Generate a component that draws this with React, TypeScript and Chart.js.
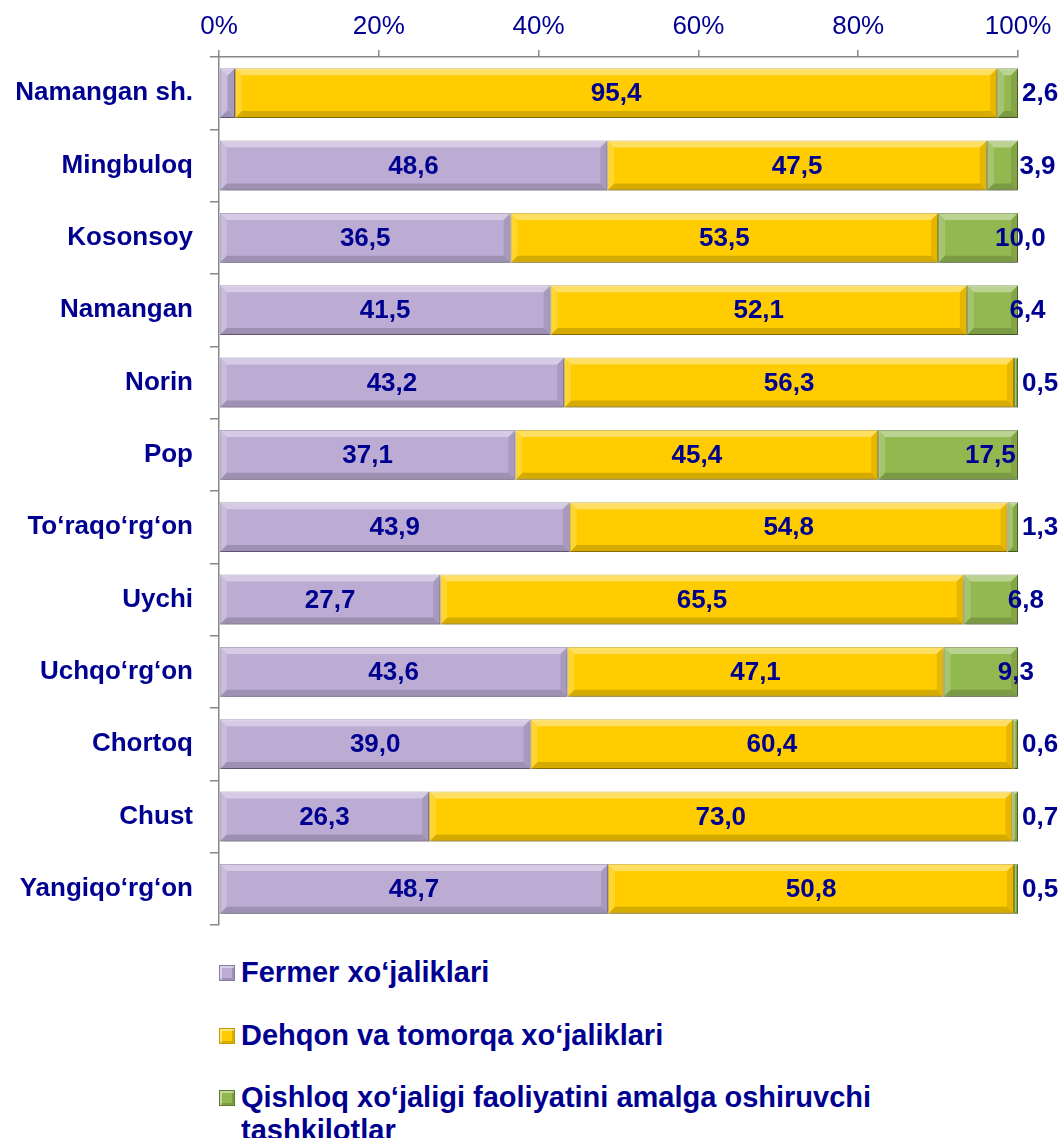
import React, { useEffect, useRef } from "react";
import { Chart, registerables } from "chart.js";

Chart.register(...registerables);

const categories = [
  "Namangan sh.",
  "Mingbuloq",
  "Kosonsoy",
  "Namangan",
  "Norin",
  "Pop",
  "To‘raqo‘rg‘on",
  "Uychi",
  "Uchqo‘rg‘on",
  "Chortoq",
  "Chust",
  "Yangiqo‘rg‘on",
];

const fermer = [2.0, 48.6, 36.5, 41.5, 43.2, 37.1, 43.9, 27.7, 43.6, 39.0, 26.3, 48.7];
const dehqon = [95.4, 47.5, 53.5, 52.1, 56.3, 45.4, 54.8, 65.5, 47.1, 60.4, 73.0, 50.8];
const tashkilot = [2.6, 3.9, 10.0, 6.4, 0.5, 17.5, 1.3, 6.8, 9.3, 0.6, 0.7, 0.5];

const seriesNames = [
  "Fermer xo‘jaliklari",
  "Dehqon va tomorqa xo‘jaliklari",
  "Qishloq xo‘jaligi faoliyatini amalga oshiruvchi tashkilotlar",
];

const xTicks = [0, 20, 40, 60, 80, 100];

const fills = ["#BCACD4", "#FFCC00", "#92B850"];
const edges = ["#8A7AA6", "#C79E00", "#5E7D2C"];
const TEXT = "#000090";
const FONT = "'Liberation Sans', Arial, Helvetica, sans-serif";

const fmt = (v: number) => v.toFixed(1).replace(".", ",");

const barDecor = {
  id: "barDecor",
  beforeDatasetDraw(chart: any) {
    const ctx = chart.ctx;
    ctx.save();
    ctx.shadowColor = "rgba(0,0,0,0.25)";
    ctx.shadowBlur = 5;
    ctx.shadowOffsetX = 1;
    ctx.shadowOffsetY = 3;
  },
  afterDatasetDraw(chart: any) {
    chart.ctx.restore();
  },
  afterDatasetsDraw(chart: any) {
    const ctx = chart.ctx;
    const area = chart.chartArea;
    chart.data.datasets.forEach((ds: any, di: number) => {
      const meta = chart.getDatasetMeta(di);
      meta.data.forEach((el: any) => {
        const p = el.getProps(["x", "y", "base", "height"], true);
        const x0 = Math.min(p.base, p.x);
        const x1 = Math.max(p.base, p.x);
        const y0 = p.y - p.height / 2;
        const y1 = p.y + p.height / 2;
        const b = Math.min(7, (x1 - x0) / 2);
        const poly = (pts: number[][], color: string) => {
          ctx.beginPath();
          ctx.moveTo(pts[0][0], pts[0][1]);
          for (let i = 1; i < pts.length; i++) ctx.lineTo(pts[i][0], pts[i][1]);
          ctx.closePath();
          ctx.fillStyle = color;
          ctx.fill();
        };
        ctx.save();
        poly([[x0, y0], [x1, y0], [x1 - b, y0 + b], [x0 + b, y0 + b]], "rgba(255,255,255,0.38)");
        poly([[x0, y1], [x1, y1], [x1 - b, y1 - b], [x0 + b, y1 - b]], "rgba(0,0,0,0.16)");
        poly([[x0, y0], [x0 + b, y0 + b], [x0 + b, y1 - b], [x0, y1]], "rgba(255,255,255,0.18)");
        poly([[x1, y0], [x1 - b, y0 + b], [x1 - b, y1 - b], [x1, y1]], "rgba(0,0,0,0.10)");
        ctx.restore();
      });
    });
    ctx.save();
    ctx.font = `bold 26px ${FONT}`;
    ctx.fillStyle = TEXT;
    ctx.textBaseline = "middle";
    chart.data.datasets.forEach((ds: any, di: number) => {
      const meta = chart.getDatasetMeta(di);
      meta.data.forEach((el: any, i: number) => {
        const v = ds.data[i];
        const p = el.getProps(["x", "y", "base"], true);
        const c = (p.base + p.x) / 2;
        if (di < 2) {
          if (v < 3) return;
          ctx.textAlign = "center";
          ctx.fillText(fmt(v), c, p.y + 1);
        } else {
          ctx.textAlign = "left";
          ctx.fillText(fmt(v), Math.min(c + 17, area.right + 4), p.y + 1);
        }
      });
    });
    ctx.restore();
  },
};

export default function App() {
  const ref = useRef<HTMLCanvasElement | null>(null);

  useEffect(() => {
    if (!ref.current) return;
    const chart = new Chart(ref.current, {
      type: "bar",
      data: {
        labels: categories,
        datasets: [fermer, dehqon, tashkilot].map((d, i) => ({
          label: seriesNames[i],
          data: d,
          backgroundColor: fills[i],
          borderColor: edges[i],
          borderWidth: 1,
          borderSkipped: false,
          barPercentage: 0.69,
          categoryPercentage: 1,
        })),
      },
      options: {
        indexAxis: "y",
        responsive: false,
        animation: false,
        events: [],
        layout: { padding: { left: 0, top: 0, right: 44, bottom: 25 } },
        plugins: {
          legend: { display: false },
          tooltip: { enabled: false },
          title: { display: false },
        },
        scales: {
          x: {
            position: "top",
            stacked: true,
            min: 0,
            max: 100,
            afterBuildTicks: (s: any) => {
              s.ticks = xTicks.map((v) => ({ value: v }));
            },
            afterFit: (s: any) => {
              s.height = 57;
              s.paddingLeft = 0;
            },
            ticks: {
              color: TEXT,
              font: { family: FONT, size: 26 },
              padding: 8,
              callback: (v: any) => `${v}%`,
            },
            grid: {
              drawOnChartArea: false,
              drawTicks: true,
              tickLength: 7,
              color: "#888888",
              lineWidth: 1.5,
            },
            border: { display: true, color: "#888888", width: 1.5 },
          },
          y: {
            stacked: true,
            afterFit: (s: any) => {
              s.width = 219;
              s.paddingTop = 0;
              s.paddingBottom = 0;
            },
            ticks: {
              color: TEXT,
              font: { family: FONT, size: 26, weight: "bold" },
              padding: 17,
            },
            grid: {
              offset: true,
              drawOnChartArea: false,
              drawTicks: true,
              tickLength: 9,
              color: "#888888",
              lineWidth: 1.5,
            },
            border: { display: true, color: "#888888", width: 1.5 },
          },
        },
      },
      plugins: [barDecor],
    });
    return () => chart.destroy();
  }, []);

  return (
    <div
      style={{
        position: "absolute",
        left: 0,
        top: 0,
        width: 1062,
        height: 1138,
        overflow: "hidden",
        background: "#ffffff",
        fontFamily: FONT,
      }}
    >
      <canvas ref={ref} width={1062} height={950} style={{ position: "absolute", left: 0, top: 0 }} />
      {seriesNames.map((name, i) => (
        <div
          key={name}
          style={{
            position: "absolute",
            left: 219,
            top: 956 + i * 62.5,
            display: "flex",
            alignItems: "flex-start",
          }}
        >
          <div
            style={{
              width: 14,
              height: 14,
              marginTop: 9,
              background: fills[i],
              border: `1px solid ${edges[i]}`,
              boxShadow: "inset 2px 2px 0 rgba(255,255,255,0.45), inset -2px -2px 0 rgba(0,0,0,0.15)",
              flex: "0 0 auto",
            }}
          />
          <div
            style={{
              marginLeft: 6,
              width: 680,
              color: TEXT,
              fontWeight: "bold",
              fontSize: 29,
              lineHeight: "33px",
            }}
          >
            {name}
          </div>
        </div>
      ))}
    </div>
  );
}
